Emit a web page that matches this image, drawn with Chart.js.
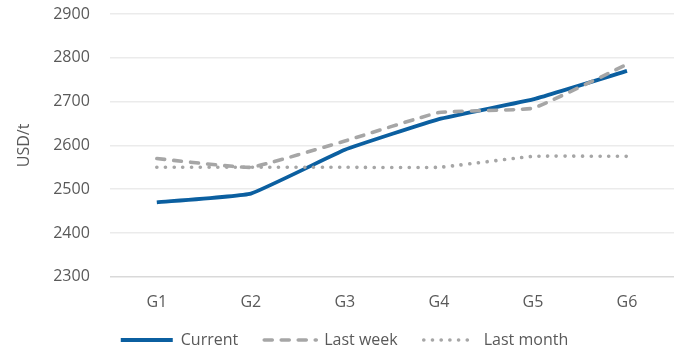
<!DOCTYPE html>
<html><head><meta charset="utf-8">
<script src="https://cdn.jsdelivr.net/npm/chart.js@4"></script>
<style>html,body{margin:0;padding:0;background:#fff}#wrap{width:682px;height:352px}</style>
</head><body><div id="wrap"><canvas id="c"></canvas></div>
<script>
const categories = ['G1','G2','G3','G4','G5','G6'];
const current = [2470, 2490, 2590, 2660, 2705, 2770];
const lastWeek = [2570, 2550, 2610, 2675, 2685, 2785];
const lastMonth = [2550, 2550, 2550, 2550, 2575, 2575];
const yTicks = [2300, 2400, 2500, 2600, 2700, 2800, 2900];

Chart.defaults.font.family = '"Open Sans", Lato, sans-serif';
Chart.defaults.color = '#595959';

const LEGEND_SHIFT = 14;
const legendShift = {
  id:'legendShift',
  afterInit(chart){
    const lg = chart.legend;
    const fit = lg.fit.bind(lg);
    lg.fit = function(){ fit(); this.height -= LEGEND_SHIFT; };
    const inner = lg._draw.bind(lg);
    lg._draw = function(){ const c=this.ctx; c.save(); c.translate(0,-LEGEND_SHIFT); inner(); c.restore(); };
  }
};

const chart = new Chart(document.getElementById('c'), {
  type: 'line',
  data: {
    labels: categories,
    datasets: [
      {label:'Current', data: current, order:3, borderColor:'#0B5FA0', backgroundColor:'#0B5FA0', borderWidth:3.8, pointRadius:0, tension:0.1, borderCapStyle:'butt'},
      {label:'Last week', data: lastWeek, order:1, borderColor:'#A6A6A6', backgroundColor:'#A6A6A6', borderWidth:3.6, borderDash:[8,9], borderCapStyle:'round', pointRadius:0, tension:0.1},
      {label:'Last month', data: lastMonth, order:2, borderColor:'#A6A6A6', backgroundColor:'#A6A6A6', borderWidth:3.6, borderDash:[0.1,8.6], borderCapStyle:'round', pointRadius:0, tension:0.1}
    ]
  },
  options: {
    responsive:true, maintainAspectRatio:false, animation:false,
    layout:{padding:{top:14,right:8,left:15,bottom:-6}},
    plugins:{
      tooltip:{enabled:false},
      legend:{position:'bottom', labels:{usePointStyle:true, pointStyle:'line', pointStyleWidth:52, boxHeight:6, padding:26, font:{size:16}, color:'#595959',
        sort:(a,b)=>a.datasetIndex-b.datasetIndex,
        generateLabels:(ch)=>{
          const items = Chart.defaults.plugins.legend.labels.generateLabels(ch);
          items.forEach(it=>{
            const ds = ch.data.datasets[it.datasetIndex];
            it.lineDash = ds.borderDash || [];
            it.lineCap = ds.borderCapStyle || 'butt';
            it.lineWidth = ds.borderWidth;
            it.strokeStyle = ds.borderColor;
            it.pointStyle = 'line';
          });
          return items;
        }}}
    },
    scales:{
      x:{offset:true, grid:{display:false}, border:{display:false}, ticks:{font:{size:16}, padding:8}},
      y:{min:2300, max:2900, afterBuildTicks:(ax)=>{ax.ticks = yTicks.map(v=>({value:v}));},
         grid:{color:(ctx)=> ctx.tick && ctx.tick.value===2300 ? '#D9D9D9' : '#EBEBEB', lineWidth:1.5, drawTicks:true, tickLength:18, tickColor:'rgba(0,0,0,0)'},
         border:{display:false},
         ticks:{font:{size:16}, padding:2, callback:(v)=>String(v)},
         title:{display:true, text:'USD/t', font:{size:16}, color:'#595959', padding:{top:0,bottom:17}}}
    }
  },
  plugins:[legendShift]
});
</script></body></html>
